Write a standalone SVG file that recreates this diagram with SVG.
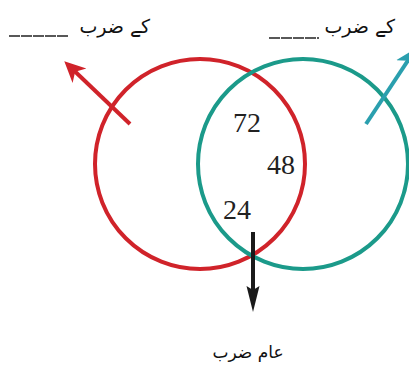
<svg xmlns="http://www.w3.org/2000/svg" width="409" height="369" viewBox="0 0 409 369">
<style>
.num{font-family:"Liberation Serif","DejaVu Serif",serif;font-size:28px;fill:#222}
.ur{font-family:"DejaVu Sans","Noto Sans",sans-serif;font-size:19px;fill:#111}
.blank{stroke:#222;stroke-width:1.5;stroke-dasharray:11 1}
</style>
<defs>
<marker id="hRed" markerUnits="userSpaceOnUse" markerWidth="24" markerHeight="24" refX="8" refY="0" viewBox="0 -12 24 24" orient="auto">
<path d="M21,0 L0,-10 L6,0 L0,10 Z" fill="#d0232a"/>
</marker>
<marker id="hTeal" markerUnits="userSpaceOnUse" markerWidth="24" markerHeight="24" refX="8" refY="0" viewBox="0 -12 24 24" orient="auto">
<path d="M21,0 L0,-10 L6,0 L0,10 Z" fill="#2a9fae"/>
</marker>
<marker id="hBlack" markerUnits="userSpaceOnUse" markerWidth="28" markerHeight="16" refX="6" refY="0" viewBox="0 -8 28 16" orient="auto">
<path d="M26,0 L0,-6.5 L4,0 L0,6.5 Z" fill="#1a1a1a"/>
</marker>
</defs>
<g id="set-a">
<circle cx="200" cy="164" r="105" fill="none" stroke="#d0232a" stroke-width="4"/>
</g>
<g id="set-b">
<circle cx="303" cy="164" r="105" fill="none" stroke="#1b9a8a" stroke-width="4"/>
</g>
<g id="values">
<text class="num" x="233" y="132">72</text>
<text class="num" x="267" y="174">48</text>
<text class="num" x="223" y="219">24</text>
</g>
<g id="connectors">
<line x1="130" y1="124" x2="73.7" y2="70.3" stroke="#d0232a" stroke-width="4" marker-end="url(#hRed)"/>
<line x1="366" y1="124" x2="408.9" y2="59" stroke="#2a9fae" stroke-width="4" marker-end="url(#hTeal)"/>
<line x1="253" y1="232" x2="253" y2="292" stroke="#1a1a1a" stroke-width="4" marker-end="url(#hBlack)"/>
</g>
<g id="label-a">
<line class="blank" x1="9" y1="36" x2="69" y2="36"/>
<text class="ur" x="150" y="33" text-anchor="end">کے ضرب</text>
</g>
<g id="label-b">
<line class="blank" x1="269" y1="38" x2="319" y2="38"/>
<text class="ur" x="395" y="33" text-anchor="end">کے ضرب</text>
</g>
<g id="label-common">
<text class="ur" x="248" y="358" text-anchor="middle" style="font-size:17px">عام ضرب</text>
</g>
</svg>
